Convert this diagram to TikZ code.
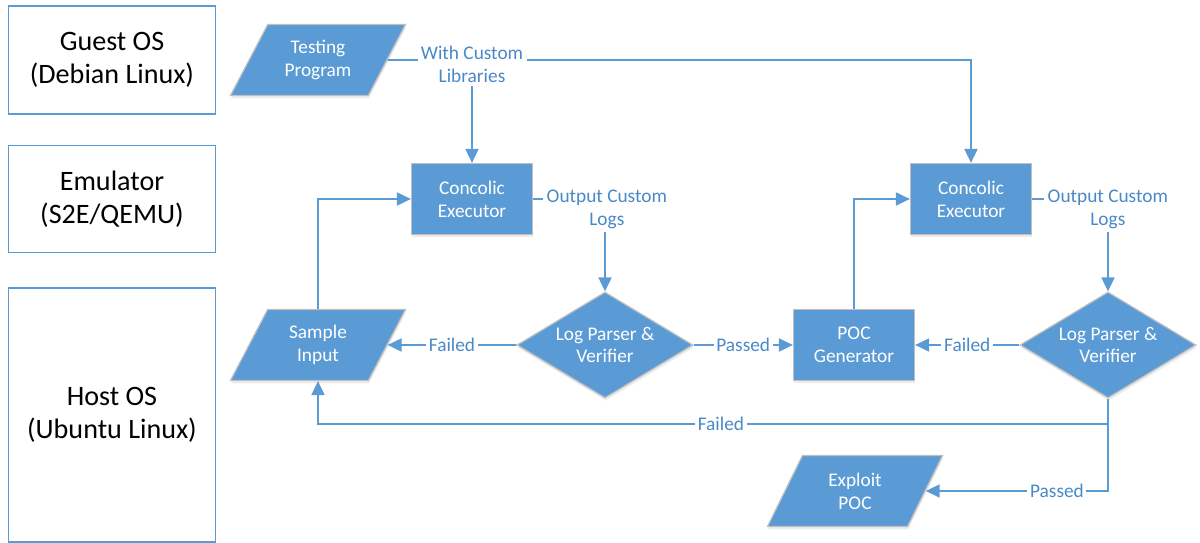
\documentclass[tikz,border=0pt]{standalone}
\usepackage{fontspec}
\setmainfont{Carlito}
\usetikzlibrary{shapes.geometric,arrows.meta,shadows}
\definecolor{boxblue}{HTML}{5B9BD5}
\definecolor{lineblue}{HTML}{5B9BD5}
\definecolor{lblblue}{HTML}{4A89C8}
\definecolor{edgegray}{HTML}{BFBFBF}
\tikzset{
	osbox/.style  = {draw=lineblue, line width=0.9pt, rectangle, align=center,
		minimum width=4.14cm, font=\fontsize{16}{19}\selectfont},
	proc/.style   = {draw=edgegray, line width=0.7pt, fill=boxblue, text=white,
		align=center, font=\fontsize{11}{13}\selectfont,
		drop shadow={shadow xshift=0.4pt, shadow yshift=-1.6pt, opacity=0.15}},
	block/.style  = {proc, rectangle, minimum width=2.42cm, minimum height=1.42cm},
	iobox/.style  = {proc, trapezium, trapezium left angle=54, trapezium right angle=126,
		trapezium stretches body, minimum width=3.5cm, minimum height=1.42cm},
	check/.style  = {proc, diamond, inner sep=0pt, shape aspect=1.66,
		minimum width=3.52cm, minimum height=2.12cm},
	flow/.style   = {draw=lineblue, line width=1.1pt},
	lbl/.style    = {fill=white, text=lblblue, inner sep=1.5pt, align=center,
		font=\fontsize{11}{13}\selectfont}
}
\begin{document}
\begin{tikzpicture}[x=0.02cm, y=-0.02cm, >={Triangle[length=0.28cm,width=0.26cm]}]
	\useasboundingbox (0,0) rectangle (1200,543);

	% system layers
	\node at (112,60) [osbox, minimum height=2.16cm] (guest) {Guest OS\\(Debian Linux)};
	\node at (112,199) [osbox, minimum height=2.14cm] (emu) {Emulator\\(S2E/QEMU)};
	\node at (112,415) [osbox, minimum height=5.08cm] (host) {Host OS\\(Ubuntu Linux)};

	% pipeline
	\node at (318,60) [iobox] (prog) {Testing\\Program};
	\node at (472,199) [block] (exec1) {Concolic\\Executor};
	\node at (605,345) [check] (parse1) {Log Parser \&\\Verifier};
	\node at (318,345) [iobox] (sample) {Sample\\Input};
	\node at (854,345) [block] (poc) {POC\\Generator};
	\node at (971,199) [block] (exec2) {Concolic\\Executor};
	\node at (1108,345) [check] (parse2) {Log Parser \&\\Verifier};
	\node at (855,491) [iobox] (exploit) {Exploit\\POC};

	\coordinate (split) at (472,60);
	\coordinate (fork) at (parse2.south |- 0,424);

	\draw[flow] (prog) -- (split) node[lbl, yshift=-0.08cm] (libs) {With Custom\\Libraries};
	\draw[flow,->] (libs) -- (exec1);
	\draw[flow,->] (libs.east |- split) -| (exec2);

	\draw[flow] (exec1.east) -- ++(10,0) node[lbl, anchor=west, yshift=-0.21cm] (logs1) {Output Custom\\Logs};
	\draw[flow,->] (parse1 |- logs1.south) -- (parse1);
	\draw[flow,->] (parse1) -- node[lbl] {Failed} (sample);
	\draw[flow,->] (parse1) -- node[lbl] {Passed} (poc);
	\draw[flow,->] (sample) |- (exec1);
	\draw[flow,->] (poc) |- (exec2);

	\draw[flow] (exec2.east) -- ++(12,0) node[lbl, anchor=west, yshift=-0.21cm] (logs2) {Output Custom\\Logs};
	\draw[flow,->] (parse2 |- logs2.south) -- (parse2);
	\draw[flow,->] (parse2) -- node[lbl] {Failed} (poc);
	\draw[flow,->] (parse2) -- (fork) -| node[lbl, pos=0.245] {Failed} (sample);
	\draw[flow,->] (fork) |- node[lbl, pos=0.64] {Passed} (exploit);
\end{tikzpicture}
\end{document}
